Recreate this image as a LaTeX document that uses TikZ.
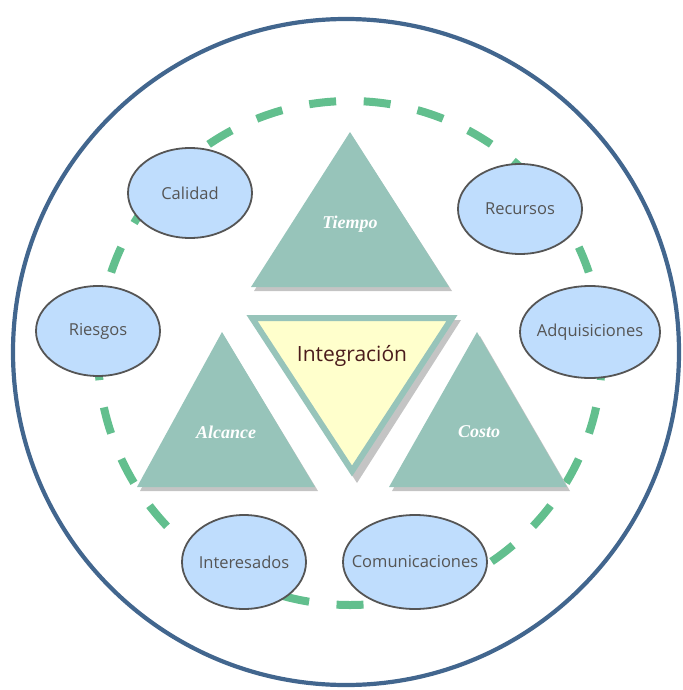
\documentclass[tikz,border=0pt]{standalone}
\usepackage{fontspec}
\usetikzlibrary{shapes.geometric}
\newfontfamily\areafont{Open Sans}
\newfontfamily\corefont{Liberation Serif}
\definecolor{ringblue}{HTML}{42668E}
\definecolor{dashgreen}{HTML}{62BF8E}
\definecolor{teal}{HTML}{97C4BA}
\definecolor{paleyellow}{HTML}{FFFFCC}
\definecolor{bubble}{HTML}{BFDDFD}
\definecolor{bubbleline}{HTML}{555555}
\definecolor{shade}{HTML}{C4C4C4}
\definecolor{darkbrown}{HTML}{4B1C1C}
\tikzset{
  area/.style={ellipse, draw=bubbleline, line width=1.8pt, fill=bubble,
    inner xsep=-24pt, inner ysep=0pt, text=bubbleline,
    font=\areafont\fontsize{16.5}{18}\selectfont},
  corelabel/.style={text=white, font=\corefont\bfseries\itshape\fontsize{18}{20}\selectfont},
  constraint/.style={fill=teal},
  dropshade/.style={fill=shade}
}
\begin{document}
\begin{tikzpicture}[x=1pt,y=-1pt]
\useasboundingbox (0,0) rectangle (682,690);

% outer ring
\draw[ringblue, line width=4.2pt] (346,352) circle[radius=333pt];

% dashed ring of knowledge areas
\draw[dashgreen, line width=8pt, dash pattern=on 27pt off 27.6pt, dash phase=27pt]
  (350,353) circle[radius=252pt];

% Tiempo
\fill[dropshade] (254,291) -- (352,136) -- (452,291) -- cycle;
\fill[constraint] (251,287) -- (350,132) -- (449,287) -- cycle;
\node[corelabel] (tiempo) at (350,224) {Tiempo};

% Alcance
\fill[dropshade] (140,491) -- (224,336) -- (318,491) -- cycle;
\fill[constraint] (137,487) -- (222,332) -- (315,487) -- cycle;
\node[corelabel] (alcance) at (226,432) {Alcance};

% Costo
\fill[dropshade] (392,491) -- (480,336) -- (570,491) -- cycle;
\fill[constraint] (389,487) -- (477,332) -- (567,487) -- cycle;
\node[corelabel] (costo) at (479,432) {Costo};

% Integración
\fill[dropshade] (252,320) -- (461,320) -- (357,483) -- cycle;
\draw[teal, line width=6pt, fill=paleyellow, line join=miter]
  (252,318) -- (452,318) -- (352,471) -- cycle;
\node[text=darkbrown, font=\areafont\fontsize{21}{23}\selectfont] (integ) at (352,356) {Integración};

% knowledge areas
\node[area, minimum width=124pt, minimum height=90pt] (calidad) at (190,193) {Calidad};
\node[area, minimum width=124pt, minimum height=90pt] (recursos) at (520,209) {Recursos};
\node[area, minimum width=124pt, minimum height=90pt] (riesgos) at (98,331) {Riesgos};
\node[area, minimum width=140pt, minimum height=92pt] (adq) at (590,332) {Adquisiciones};
\node[area, minimum width=124pt, minimum height=94pt] (inter) at (244,562) {Interesados};
\node[area, minimum width=144pt, minimum height=94pt] (comu) at (415,562) {Comunicaciones};
\end{tikzpicture}
\end{document}
